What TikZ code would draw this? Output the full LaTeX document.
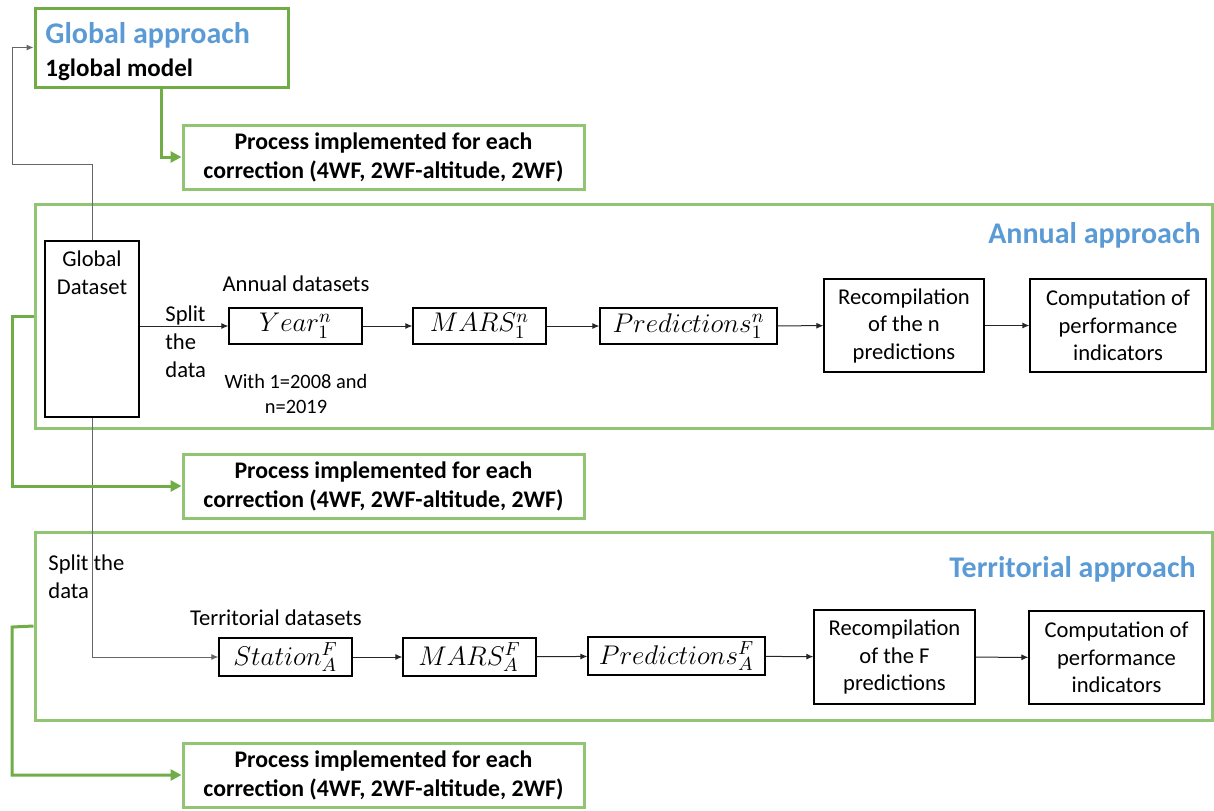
\documentclass[tikz,border=0pt]{standalone}
\usepackage{fix-cm}
\usepackage{fontspec}
\setmainfont{Carlito}
\usetikzlibrary{arrows.meta}
\definecolor{ttlblue}{RGB}{91,155,213}
\definecolor{dkgreen}{RGB}{112,173,71}
\definecolor{ltgreen}{RGB}{146,197,115}
\begin{document}
\begin{tikzpicture}[x=0.5pt,y=-0.5pt,
 blk/.style={draw,line width=0.6pt,minimum width=66.5pt,minimum height=18pt,inner sep=1pt,font=\fontsize{13.5}{15}\selectfont},
 txtbox/.style={draw,line width=0.6pt,minimum height=46.5pt,inner sep=1pt,align=center,font=\fontsize{11.3}{13.75}\selectfont},
 proc/.style={draw=ltgreen,line width=1.5pt,minimum width=200.5pt,minimum height=32pt,inner sep=1pt,align=center,font=\bfseries\fontsize{11.9}{14.5}\selectfont},
 zone/.style={draw=ltgreen,line width=1.5pt,minimum width=588.5pt,inner sep=0pt},
 ttl/.style={text=ttlblue,font=\bfseries\fontsize{15}{18}\selectfont,inner sep=0pt},
 lbl/.style={inner sep=0pt,font=\fontsize{11.3}{14}\selectfont},
 arr/.style={draw=black!85,line width=0.5pt,-{Latex[length=3.5pt,width=3pt]}},
 gline/.style={draw=black!60,line width=0.5pt,-{Latex[length=3.5pt,width=3pt]}},
 grn/.style={draw=dkgreen,line width=1.5pt,-{Triangle[length=5.5pt,width=5.5pt]}}]
 \useasboundingbox (0,0) rectangle (1214,810);
 \node[zone,minimum height=112pt] (annual) at (623.5,316) {};
 \node[zone,minimum height=94pt] (terr) at (623.5,626) {};
 \node[ttl,anchor=base east] (annttl) at (1201,243) {Annual approach};
 \node[ttl,anchor=base east] (terrttl) at (1196,577) {Territorial approach};
 \node[draw=dkgreen,line width=1.5pt,minimum width=126.5pt,minimum height=39.5pt,inner sep=0pt] (glob) at (161.5,47.5) {};
 \node[ttl,anchor=base west] (globttl) at (45,43) {Global approach};
 \node[inner sep=0pt,anchor=base west,font=\bfseries\fontsize{12.5}{15}\selectfont] (globsub) at (45,76) {1global model};
 \node[proc] (proc1) at (383.5,157) {Process implemented for each\\correction (4WF, 2WF-altitude, 2WF)};
 \node[proc] (proc2) at (383.5,486) {Process implemented for each\\correction (4WF, 2WF-altitude, 2WF)};
 \node[proc] (proc3) at (383.5,775) {Process implemented for each\\correction (4WF, 2WF-altitude, 2WF)};
 \node[draw,line width=0.6pt,minimum width=47pt,minimum height=88pt] (gdata) at (92,329) {};
 \node[lbl,anchor=north,align=center] (gdtxt) at ([yshift=-5pt]gdata.north) {Global\\Dataset};
 \node[lbl,anchor=west,align=left] (split1) at (165,342) {Split\\the\\data};
 \node[lbl] (anndata) at (296,284) {Annual datasets};
 \node[inner sep=0pt,align=center,font=\fontsize{10.2}{12.5}\selectfont] (with) at (296,394) {With 1=2008 and\\n=2019};
 \node[blk] (year) at (295.5,326) {$Year_1^n$};
 \node[blk] (mars1) at (479.5,326) {$MARS_1^n$};
 \node[blk,minimum width=88.5pt] (pred1) at (688.5,326) {$Predictions_1^n$};
 \node[txtbox,minimum width=80pt] (recomp1) at (904,325.5) {Recompilation\\of the n\\predictions};
 \node[txtbox,minimum width=88pt] (comp1) at (1118,325.5) {Computation of\\performance\\indicators};
 \node[lbl,anchor=west,align=left] (split2) at (48,577) {Split the\\data};
 \node[lbl] (terrdata) at (276,618) {Territorial datasets};
 \node[blk,minimum height=19pt] (station) at (285.5,657) {$Station_A^F$};
 \node[blk,minimum height=19pt] (mars2) at (469.5,657) {$MARS_A^F$};
 \node[blk,minimum height=19pt,minimum width=88.5pt] (pred2) at (676.5,656) {$Predictions_A^F$};
 \node[txtbox,minimum width=80.5pt,minimum height=47pt] (recomp2) at (894.5,657) {Recompilation\\of the F\\predictions};
 \node[txtbox,minimum width=87.5pt] (comp2) at (1116.5,657.5) {Computation of\\performance\\indicators};
 \coordinate (gl) at (12,164); \coordinate (ga) at (12,316); \coordinate (gt) at (12,627);
 \draw[gline] (gdata.north) |- (gl) |- (glob.west);
 \draw[gline] (gdata.south) |- (station.west);
 \draw[arr] (gdata.east |- year.west) -- (year.west);
 \draw[arr] (year) -- (mars1); \draw[arr] (mars1) -- (pred1); \draw[arr] (pred1) -- (recomp1); \draw[arr] (recomp1) -- (comp1);
 \draw[arr] (station) -- (mars2); \draw[arr] (mars2) -- (pred2); \draw[arr] (pred2) -- (recomp2); \draw[arr] (recomp2) -- (comp2);
 \draw[grn] (glob.south) |- (proc1.west);
 \draw[grn] (annual.west) -- (ga) |- (proc2.west);
 \draw[grn] (terr.west) -- (gt) |- (proc3.west);
\end{tikzpicture}
\end{document}
